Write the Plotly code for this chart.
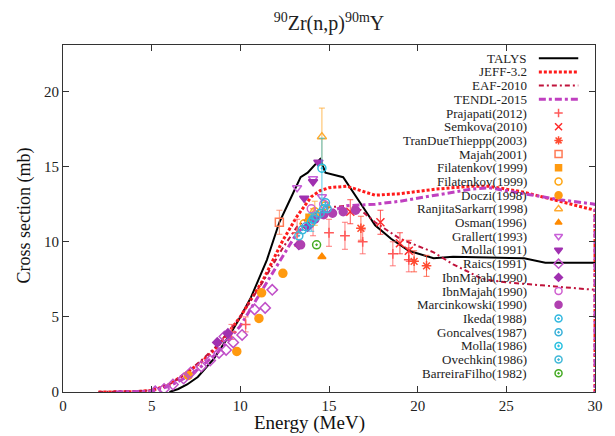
import plotly.graph_objects as go

# ---------------- evaluated curves ----------------
talys_E = [6.0, 6.5, 7.0, 7.6, 8.5, 9.45, 10.0, 10.6, 11.5, 12.2, 12.8, 13.4, 13.8, 14.5, 14.8, 15.8, 16.7, 17.6, 18.5, 19.5, 20.9, 22.0, 24.0, 26.0, 27.2, 30.0]
talys_xs = [0.0, 0.2, 0.5, 1.0, 2.2, 3.9, 5.0, 6.3, 8.8, 11.3, 12.8, 14.3, 14.6, 15.5, 14.6, 14.3, 12.7, 11.1, 10.2, 9.4, 8.9, 9.0, 8.95, 8.9, 8.6, 8.6]

jeff_E = [2.0, 4.0, 5.0, 6.0, 7.0, 7.8, 8.7, 10.0, 11.3, 12.4, 13.2, 14.0, 14.5, 15.0, 16.0, 16.5, 17.6, 19.0, 21.0, 23.0, 24.0, 25.0, 26.0, 27.0, 28.0, 29.0, 30.0, 30.0]
jeff_xs = [0.0, 0.02, 0.1, 0.5, 1.3, 2.0, 3.0, 5.0, 7.5, 10.1, 11.7, 13.0, 13.4, 13.6, 13.7, 13.5, 13.1, 13.2, 13.5, 13.7, 13.7, 13.5, 13.3, 13.0, 12.7, 12.4, 12.1, 0.0]

eaf_E = [2.0, 5.0, 6.0, 7.0, 7.8, 8.7, 10.0, 11.3, 12.4, 13.2, 14.0, 15.0, 16.0, 16.8, 17.6, 19.0, 20.9, 22.0, 23.7, 25.0, 27.0, 30.0]
eaf_xs = [0.0, 0.1, 0.5, 1.3, 2.1, 3.1, 5.0, 7.4, 9.6, 11.0, 11.8, 12.3, 12.4, 12.1, 11.3, 10.2, 9.3, 8.5, 7.5, 7.3, 7.1, 6.8]

tendl_E = [3.0, 5.0, 6.0, 7.0, 7.6, 8.7, 10.0, 11.3, 12.4, 13.2, 14.0, 15.0, 16.0, 17.6, 19.0, 21.0, 23.0, 24.0, 25.0, 26.0, 27.0, 28.0, 30.0, 30.0]
tendl_xs = [0.0, 0.05, 0.4, 1.0, 1.5, 2.6, 4.4, 6.9, 9.0, 10.6, 11.4, 12.0, 12.4, 12.5, 12.7, 13.1, 13.5, 13.6, 13.4, 13.2, 13.0, 12.8, 12.5, 0.0]

# ---------------- experimental data ----------------
prajapati_E = [9.5, 10.3, 13.2, 14.1, 15.0, 15.9, 16.9, 18.6, 19.5]
prajapati_xs = [4.0, 4.5, 10.6, 11.3, 10.6, 10.4, 10.0, 9.2, 8.8]
prajapati_err = [0.5, 0.5, 0.9, 0.9, 0.9, 0.9, 0.8, 0.8, 0.8]

semkova_E = [16.2, 17.9, 19.0, 19.5]
semkova_xs = [12.0, 11.3, 9.9, 9.4]
semkova_err = [0.8, 0.8, 0.7, 0.7]

trandue_E = [16.8, 19.8, 20.5]
trandue_xs = [10.9, 8.7, 8.4]
trandue_err = [0.8, 0.7, 0.7]

majah01_E = [12.2]
majah01_xs = [11.3]
majah01_err = [0.8]

filat_sq_E = [13.9]
filat_sq_xs = [11.6]

filat_ci_E = [13.6, 14.2, 14.8]
filat_ci_xs = [11.2, 12.0, 12.4]

doczi_E = [7.06, 9.8, 11.05, 11.2, 12.4]
doczi_xs = [1.1, 2.7, 4.9, 6.6, 7.9]

ranjita_E = [14.2, 14.6]
ranjita_xs = [11.9, 17.0]
ranjita_err = [0.8, 1.9]

osman_E = [14.6]
osman_xs = [9.0]

grallert_E = [13.2, 14.1, 14.6]
grallert_xs = [13.6, 14.2, 13.0]

molla91_E = [13.6, 14.1, 14.4]
molla91_xs = [12.9, 14.0, 15.3]

raics_E = [5.2, 5.7, 6.2, 6.8, 7.2, 7.8, 8.3, 8.8, 9.1, 9.2, 9.6, 10.1, 10.8, 11.4, 11.8]
raics_xs = [0.05, 0.2, 0.5, 0.9, 1.3, 1.7, 2.1, 2.6, 3.7, 2.8, 3.3, 3.8, 5.5, 5.6, 6.8]

ibnmajah_d_E = [8.7, 9.3, 13.3, 13.8]
ibnmajah_d_xs = [3.3, 3.9, 9.8, 11.0]

ibnmajah_c_E = [14.0, 14.7]
ibnmajah_c_xs = [12.2, 12.5]

marcin_E = [13.4, 14.2, 14.7, 15.2, 15.8, 16.5]
marcin_xs = [9.8, 11.5, 11.8, 11.9, 12.0, 12.1]

ikeda_E = [13.5, 14.1, 14.7]
ikeda_xs = [10.8, 11.5, 12.2]

goncalves_E = [13.7, 14.5, 14.8]
goncalves_xs = [11.0, 11.9, 12.6]

molla86_E = [14.0, 14.6]
molla86_xs = [11.3, 14.9]
molla86_err = [0.6, 2.0]

ovechkin_E = [13.3, 14.3, 14.9]
ovechkin_xs = [10.4, 11.7, 12.2]

barreira_E = [14.3]
barreira_xs = [9.8]

x_ticks = [0, 5, 10, 15, 20, 25, 30]
y_ticks = [0, 5, 10, 15, 20]

SERIF = "Liberation Serif"

fig = go.Figure()

curves = [
    ("TALYS", talys_E, talys_xs, dict(color="black", width=2, dash="solid")),
    ("JEFF-3.2", jeff_E, jeff_xs, dict(color="#ff1a1a", width=3, dash="3px,2px")),
    ("EAF-2010", eaf_E, eaf_xs, dict(color="#c0143c", width=2, dash="5px,3px,2px,3px")),
    ("TENDL-2015", tendl_E, tendl_xs, dict(color="#c040c0", width=3, dash="7px,3px,3px,3px")),
]

points = [
    ("Prajapati(2012)", prajapati_E, prajapati_xs, prajapati_err, "cross-thin-open", "#ff5a5a", 7),
    ("Semkova(2010)", semkova_E, semkova_xs, semkova_err, "x-thin-open", "#ff2a2a", 8),
    ("TranDueThieppp(2003)", trandue_E, trandue_xs, trandue_err, "asterisk-open", "#ff4a30", 8),
    ("Majah(2001)", majah01_E, majah01_xs, majah01_err, "square-open", "#ff7a55", 8),
    ("Filatenkov(1999)", filat_sq_E, filat_sq_xs, None, "square", "#ff9a10", 7),
    ("Filatenkov(1999)", filat_ci_E, filat_ci_xs, None, "circle-open", "#ffa510", 8),
    ("Doczi(1998)", doczi_E, doczi_xs, None, "circle", "#ff9a10", 8),
    ("RanjitaSarkarr(1998)", ranjita_E, ranjita_xs, ranjita_err, "triangle-up-open", "#ffaa30", 8),
    ("Osman(1996)", osman_E, osman_xs, None, "triangle-up", "#ff8a00", 7),
    ("Grallert(1993)", grallert_E, grallert_xs, None, "triangle-down-open", "#c860d8", 8),
    ("Molla(1991)", molla91_E, molla91_xs, None, "triangle-down", "#a030b0", 8),
    ("Raics(1991)", raics_E, raics_xs, None, "diamond-open", "#c050c8", 8),
    ("IbnMajah(1990)", ibnmajah_d_E, ibnmajah_d_xs, None, "diamond", "#a030b0", 7),
    ("IbnMajah(1990)", ibnmajah_c_E, ibnmajah_c_xs, None, "circle-open", "#d060d0", 8),
    ("Marcinkowski(1990)", marcin_E, marcin_xs, None, "circle", "#b040b0", 8),
    ("Ikeda(1988)", ikeda_E, ikeda_xs, None, "circle-open-dot", "#30b8e0", 8),
    ("Goncalves(1987)", goncalves_E, goncalves_xs, None, "circle-open-dot", "#38b0d8", 8),
    ("Molla(1986)", molla86_E, molla86_xs, molla86_err, "circle-open-dot", "#28c0e0", 8),
    ("Ovechkin(1986)", ovechkin_E, ovechkin_xs, None, "circle-open-dot", "#40b8d8", 8),
    ("BarreiraFilho(1982)", barreira_E, barreira_xs, None, "circle-open-dot", "#44aa22", 8),
]

for name, E, xs, line in curves:
    fig.add_trace(go.Scatter(x=E, y=xs, mode="lines", name=name, line=line,
                             showlegend=False))

for name, E, xs, err, sym, col, size in points:
    kw = {}
    if err is not None:
        kw["error_y"] = dict(type="data", array=err, visible=True, color=col,
                             thickness=0.8, width=3)
    fig.add_trace(go.Scatter(x=E, y=xs, mode="markers", name=name,
                             marker=dict(symbol=sym, color=col, size=size,
                                         line=dict(color=col, width=1.5)),
                             showlegend=False, **kw))

# ---------------- custom gnuplot-style key (text right, sample left) ----------------
PL, PR, PT, PB = 63, 603, 45, 392
def px2x(px):
    return (px - PL) / (PR - PL)
def py2y(py):
    return (PB - py) / (PB - PT)

row0, step = 58.2, 13.7
text_right = 536
annotations = []
entries = [(c[0], "line", c[3]) for c in curves] + [(p[0], "marker", p) for p in points]
for i, (name, kind, style) in enumerate(entries):
    yy = py2y(row0 + i * step)
    annotations.append(dict(x=px2x(text_right), y=yy, xref="paper", yref="paper",
                            text=name, showarrow=False, xanchor="right", yanchor="middle",
                            font=dict(family=SERIF, size=13, color="#222")))
    if kind == "line":
        fig.add_trace(go.Scatter(x=[px2x(546), px2x(586)], y=[yy, yy], mode="lines",
                                 line=style, xaxis="x2", yaxis="y2", showlegend=False,
                                 hoverinfo="skip"))
    else:
        _, _, _, _, sym, col, size = style
        fig.add_trace(go.Scatter(x=[px2x(566)], y=[yy], mode="markers",
                                 marker=dict(symbol=sym, color=col, size=size - 1,
                                             line=dict(color=col, width=1.5)),
                                 xaxis="x2", yaxis="y2", showlegend=False, hoverinfo="skip"))

annotations.append(dict(x=px2x(313), y=py2y(423), xref="paper", yref="paper",
                        text="Energy (MeV)", showarrow=False, xanchor="center", yanchor="middle",
                        font=dict(family=SERIF, size=19, color="#111")))
annotations.append(dict(x=px2x(23), y=py2y(216), xref="paper", yref="paper",
                        text="Cross section (mb)", showarrow=False, textangle=-90,
                        xanchor="center", yanchor="middle",
                        font=dict(family=SERIF, size=18, color="#111")))

axis_common = dict(showgrid=False, zeroline=False, showline=True, linecolor="#333",
                   linewidth=1, mirror="ticks", ticks="inside", ticklen=6,
                   tickcolor="#333", tickfont=dict(family=SERIF, size=15, color="#222"))

fig.update_layout(
    width=615, height=436,
    margin=dict(l=PL, r=615 - PR, t=PT, b=436 - PB),
    plot_bgcolor="white", paper_bgcolor="white",
    title=dict(text="<sup>90</sup>Zr(n,p)<sup>90m</sup>Y", x=px2x(333), xref="paper",
               y=1 - 23 / 436, yref="container", xanchor="center", yanchor="middle",
               font=dict(family=SERIF, size=20, color="#222")),
    xaxis=dict(range=[0, 30], tickvals=x_ticks, **axis_common),
    yaxis=dict(range=[0, 23.1], tickvals=y_ticks, **axis_common),
    xaxis2=dict(overlaying="x", range=[0, 1], visible=False, fixedrange=True),
    yaxis2=dict(overlaying="y", range=[0, 1], visible=False, fixedrange=True),
    annotations=annotations,
    showlegend=False,
)

fig.write_html("out.html")
